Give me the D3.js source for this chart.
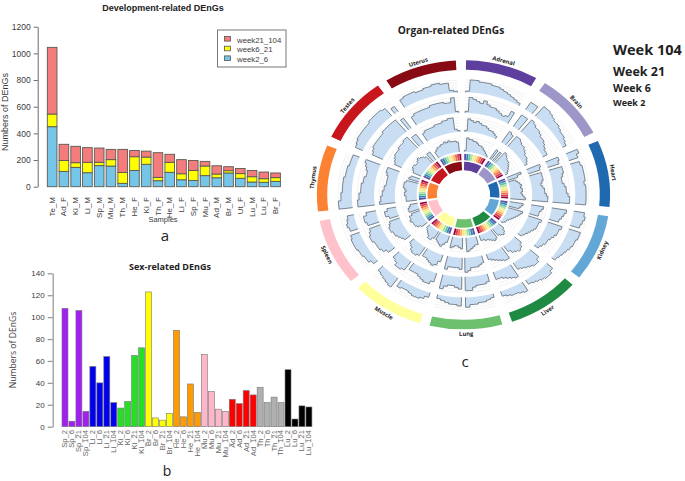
<!DOCTYPE html>
<html><head><meta charset="utf-8">
<script src="https://cdn.jsdelivr.net/npm/d3@7"></script>
<style>
html,body{margin:0;padding:0;background:#fff}
svg{display:block}
text{font-family:"Liberation Sans",Arial,sans-serif}
text.hum{font-family:"Open Sans",sans-serif}
</style></head><body><div id="c"></div>
<script>
// Panel a
const devSamples=["Te_M","Ad_F","Ki_M","Li_M","Sp_M","Mu_M","Th_M","He_F","Ki_F","Th_F","He_M","Li_F","Sp_F","Mu_F","Ad_M","Br_M","Ut_F","Lu_M","Lu_F","Br_F"];
const week2_6=[450,115,145,105,158,155,25,122,168,45,108,52,47,83,67,103,63,35,33,40];
const week6_21=[95,82,35,78,25,48,82,103,54,25,75,45,75,72,28,17,35,40,27,28];
const week21_104=[500,121,123,110,107,77,173,47,45,185,60,106,75,35,62,30,39,47,50,35];
const devSeries=["week2_6","week6_21","week21_104"];
const devColours=["#74c5e8","#ffff00","#f47c7c"];
const devTicks=[0,200,400,600,800,1000,1200];
// Panel b
const sexLabels=["Sp_2","Sp_6","Sp_21","Sp_104","Li_2","Li_6","Li_21","Li_104","Ki_2","Ki_6","Ki_21","Ki_104","Br_2","Br_6","Br_21","Br_104","He_2","He_6","He_21","He_104","Mu_2","Mu_6","Mu_21","Mu_104","Ad_2","Ad_6","Ad_21","Ad_104","Th_2","Th_6","Th_21","Th_104","Lu_2","Lu_6","Lu_21","Lu_104"];
const sexValues=[108,5,106,14,55,40,64,22,17,23,65,72,123,8,6,12,88,9,39,13,66,32,16,14,25,21,33,29,36,22,27,22,52,7,19,18];
const sexTissues=["Sp","Li","Ki","Br","He","Mu","Ad","Th","Lu"];
const sexColours=["#a020f0","#0000ee","#22e022","#ffff00","#ff9a00","#ffb6c8","#ff0000","#b0b0b0","#000000"];
const sexTicks=[0,20,40,60,80,100,120,140];
// Panel c
const organs=["Adrenal","Brain","Heart","Kidney","Liver","Lung","Muscle","Spleen","Thymus","Testes","Uterus"];
const organColours=["#5f3f9e","#9d97c9","#1f69b0","#62a7d6","#1f8a42","#6cc06e","#ffff9c","#ffc2ca","#fb8232","#c8161d","#880a14"];
const heatColours=["#5e4fa2","#3288bd","#66c2a5","#abdda4","#e6f598","#fee08b","#fdae61","#f46d43","#d53e4f","#9e0142"];
const week104=[
[1,10,10,9,9,9,8,8,7,6,5,4,3,2],
[7,7,0,10,10,9,8,7,7,6,5,5,4,3],
[9,7,0,7,8,8,8,8,7,8,8,8,8,8],
[8,9,8,7,0,9,9,8,8,7,6,5,4,3],
[6,8,8,7,6,5,4,0,8,7,6,6,5,4],
[3,4,5,5,6,6,8,0,7,6,6,5,4,3],
[4,6,7,7,6,5,5,6,0,9,8,7,6,5],
[4,6,6,7,7,8,8,8,7,0,6,7,6,5],
[10,10,8,8,7,7,7,7,6,6,6,5,5,5],
[6,7,8,8,8,8,8,9,9,9,9,8,0,5],
[7,8,8,8,7,7,8,8,9,9,8,8,2,1]];
const week21=[
[1,10,9,8,7,9,7,6,6,5,4,3,4,8],
[9,9,0,10,9,8,8,7,6,6,5,4,3,3],
[8,7,0,8,8,7,6,6,7,8,8,9,10,10],
[9,8,7,6,0,9,8,8,7,6,5,5,4,3],
[7,9,9,8,7,6,5,0,9,8,7,6,5,5],
[5,6,6,6,7,9,9,0,8,7,6,6,7,9],
[6,8,8,7,6,5,5,5,0,7,8,8,6,5],
[5,7,8,8,8,9,9,8,7,0,7,8,8,6],
[10,10,9,9,8,8,8,7,7,6,6,7,8,9],
[7,8,9,9,9,9,9,10,10,10,10,10,0,8],
[6,7,7,7,7,7,8,8,8,8,7,7,10,1]];
const week6=[
[1,9,8,7,8,7,6,6,5,4,4,3,2,0],
[9,8,0,9,9,8,7,7,6,5,4,4,3,2],
[9,8,0,8,8,8,7,6,7,8,8,9,10,10],
[8,7,6,6,0,9,8,8,8,7,6,5,4,3],
[6,8,9,8,7,5,0,9,9,8,7,6,5,4],
[5,6,7,7,7,9,10,0,8,7,7,7,7,9],
[5,8,9,8,7,6,6,0,7,8,8,7,5,4],
[5,6,7,8,8,9,9,8,7,0,6,8,8,6],
[10,9,9,8,8,7,7,6,6,6,6,7,8,8],
[5,6,7,8,8,8,9,9,9,10,10,0,8,8],
[6,7,7,7,7,8,8,8,9,9,10,10,2,1]];
const week2=[
[1,10,9,9,8,8,7,6,6,5,4,3,2,1],
[8,0,8,0,10,9,8,7,7,6,5,4,3,2],
[10,7,0,5,6,7,8,7,8,8,7,8,9,10],
[9,8,7,0,10,9,8,7,6,5,4,3,3,2],
[5,7,8,7,6,0,7,8,7,6,5,5,4,4],
[6,6,7,8,9,10,0,0,8,7,6,6,7,8],
[5,7,9,8,7,6,0,6,8,8,6,5,4,3],
[5,7,8,8,8,9,8,8,6,0,7,7,6,5],
[7,7,7,8,8,7,8,9,9,9,8,0,7,6],
[6,7,8,8,7,7,8,9,8,7,6,0,7,7],
[5,6,7,7,8,8,9,8,9,8,8,8,7,0]];
const weekTracks=[week104,week21,week6,week2];
const weekLabels=["Week 104","Week 21","Week 6","Week 2"];

const svg=d3.select("#c").append("svg").attr("width",685).attr("height",481);
const ink="#3c3c3c",axisCol="#6a6a6a";

function styleAxis(g,fs){
  g.selectAll("path,line").attr("stroke",axisCol);
  g.selectAll("text").attr("fill",ink).style("font-size",fs+"px");
}
/* ---------- a ---------- */
const ax=d3.scaleBand().domain(devSamples).range([45.2,282.5]).paddingInner(.18).paddingOuter(.18);
const ay=d3.scaleLinear().domain([0,1200]).range([186.7,26.7]);
const stack=d3.stack().keys(devSeries)(devSamples.map((s,i)=>({s,week2_6:week2_6[i],week6_21:week6_21[i],week21_104:week21_104[i]})));
const ga=svg.append("g");
ga.selectAll("g.l").data(stack).join("g").attr("fill",(d,i)=>devColours[i])
 .selectAll("rect").data(d=>d).join("rect")
 .attr("x",d=>ax(d.data.s)).attr("width",ax.bandwidth())
 .attr("y",d=>ay(d[1])).attr("height",d=>ay(d[0])-ay(d[1]))
 .attr("stroke","#5a5a50").attr("stroke-width",.9);
ga.append("g").attr("transform","translate(37.7,0)").call(d3.axisLeft(ay).tickValues(devTicks).tickFormat(d3.format("d")).tickSize(4).tickSizeOuter(0)).call(g=>styleAxis(g,8.5));
ga.append("g").attr("transform","translate(0,190)").call(d3.axisBottom(ax).tickSize(0))
 .call(g=>{g.select(".domain").remove();styleAxis(g,8);
  g.selectAll("text").attr("transform","rotate(-90)").attr("text-anchor","end").attr("x",-7).attr("y",0).attr("dy",".32em");});
ga.append("text").attr("x",163).attr("y",11).attr("text-anchor","middle").attr("font-weight","bold").attr("font-size",9).attr("fill","#222").text("Development-related DEnGs");
ga.append("text").attr("x",163).attr("y",222).attr("text-anchor","middle").attr("font-size",7.5).attr("fill",ink).text("Samples");
ga.append("text").attr("transform","translate(8,112) rotate(-90)").attr("text-anchor","middle").attr("font-size",9).attr("fill",ink).text("Numbers of DEnGs");
const leg=ga.append("g");
leg.append("rect").attr("x",217.5).attr("y",30).attr("width",68.5).attr("height",37).attr("fill","#fff").attr("stroke","#777").attr("stroke-width",1);
devSeries.slice().reverse().forEach((s,i)=>{
  const col=devColours[devSeries.length-1-i];
  leg.append("rect").attr("x",224.5).attr("y",36.5+i*9.7).attr("width",6).attr("height",4.6).attr("fill",col).attr("stroke","#555").attr("stroke-width",.8);
  leg.append("text").attr("x",237).attr("y",42.5+i*9.7).attr("font-size",7.8).attr("fill",ink).text(s);
});
svg.append("text").attr("x",165).attr("y",241).attr("text-anchor","middle").attr("font-size",15).attr("fill","#222").attr("class","hum").text("a");

/* ---------- b ---------- */
const bx=d3.scaleBand().domain(sexLabels).range([61,312.9]).paddingInner(.14).paddingOuter(.14);
const by=d3.scaleLinear().domain([0,140]).range([426.7,273.3]);
const tCol=d3.scaleOrdinal().domain(sexTissues).range(sexColours);
const gb=svg.append("g");
gb.selectAll("rect").data(sexValues).join("rect")
 .attr("x",(d,i)=>bx(sexLabels[i])).attr("width",bx.bandwidth())
 .attr("y",d=>by(d)).attr("height",d=>by(0)-by(d))
 .attr("fill",(d,i)=>tCol(sexLabels[i].split("_")[0])).attr("stroke","#777").attr("stroke-width",.6);
gb.append("g").attr("transform","translate(52.7,0)").call(d3.axisLeft(by).tickValues(sexTicks).tickSize(5).tickSizeOuter(0))
 .call(g=>{styleAxis(g,8);g.selectAll("path,line").attr("stroke","#9a9a9a").attr("stroke-width",1.3);});
gb.append("g").attr("transform","translate(0,428)").call(d3.axisBottom(bx).tickSize(0))
 .call(g=>{g.select(".domain").remove();styleAxis(g,7.6);
  g.selectAll("text").attr("fill","#666").attr("transform","rotate(-90)").attr("text-anchor","end").attr("x",-2).attr("y",0).attr("dy",".32em");});
gb.append("text").attr("class","hum").attr("x",170).attr("y",270).attr("text-anchor","middle").attr("font-weight","bold").attr("font-size",9).attr("fill","#222").text("Sex-related DEnGs");
gb.append("text").attr("class","hum").attr("transform","translate(16,350) rotate(-90)").attr("text-anchor","middle").attr("font-size",8.6).attr("fill",ink).text("Numbers of DEnGs");
svg.append("text").attr("x",167).attr("y",476).attr("text-anchor","middle").attr("font-size",14).attr("fill","#222").attr("class","hum").text("b");

/* ---------- c ---------- */
const cx=463.5,cy=194.8,stretch=1.09;
const gc=svg.append("g").attr("transform",`translate(${cx},${cy}) scale(${stretch},1)`);
const deg=Math.PI/180;
const sectorScale=d3.scaleLinear().domain([0,organs.length]).range([-1,359].map(d=>d*deg));
const gapA=2*deg;
const secStart=i=>sectorScale(i)+gapA, secEnd=i=>sectorScale(i+1)-gapA;
const arc=d3.arc();
const trackBase=[102.5,82,63,43], trackTop=[115,97.5,77.5,57];

organs.forEach((o,i)=>{
  const a0=secStart(i),a1=secEnd(i);
  gc.append("path").attr("d",arc({innerRadius:125,outerRadius:134.5,startAngle:a0,endAngle:a1})).attr("fill",organColours[i]);
  gc.append("path").attr("d",arc({innerRadius:24.5,outerRadius:33,startAngle:a0,endAngle:a1})).attr("fill",organColours[i]);
  const hs=d3.scaleBand().domain(d3.range(heatColours.length)).range([a0,a1]).paddingInner(.12);
  heatColours.forEach((c,k)=>gc.append("path").attr("d",arc({innerRadius:34.5,outerRadius:41,startAngle:hs(k),endAngle:hs(k)+hs.bandwidth()})).attr("fill",c));
  weekTracks.forEach((trk,t)=>{
    const vals=trk[i];
    const r=d3.scaleLinear().domain([0,10]).range([trackBase[t],trackTop[t]]);
    const ang=d3.scaleLinear().domain([0,vals.length]).range([a0,a1]);
    d3.range(1,6).forEach(q=>{
      const rr=trackBase[t]+q*(trackTop[t]-trackBase[t])/5;
      gc.append("path").attr("d",arc({innerRadius:rr,outerRadius:rr,startAngle:a0,endAngle:a1})).attr("fill","none").attr("stroke","#f1f1f1").attr("stroke-width",.6).attr("vector-effect","non-scaling-stroke");
    });
    let k=0;
    while(k<vals.length){
      if(vals[k]===0){k++;continue;}
      let e=k;while(e+1<vals.length&&vals[e+1]!==0)e++;
      const pts=[{a:ang(k),v:0}];
      for(let b=k;b<=e;b++){pts.push({a:ang(b),v:vals[b]});pts.push({a:ang(b+1),v:vals[b]});}
      pts.push({a:ang(e+1),v:0});
      gc.append("path").datum(pts).attr("d",d3.areaRadial().angle(p=>p.a).innerRadius(r(0)).outerRadius(p=>r(p.v))).attr("fill","#c9def2");
      gc.append("path").datum(pts).attr("d",d3.lineRadial().angle(p=>p.a).radius(p=>r(p.v))).attr("fill","none").attr("stroke","#66727e").attr("stroke-width",.85).attr("vector-effect","non-scaling-stroke");
      k=e+1;
    }
  });
  const mid=(a0+a1)/2,midDeg=mid/deg,R=139;
  const rot=(midDeg>90&&midDeg<270)?midDeg-180:midDeg;
  svg.append("text").attr("class","hum")
    .attr("transform",`translate(${cx+stretch*R*Math.sin(mid)},${cy-R*Math.cos(mid)}) rotate(${rot})`)
    .attr("text-anchor","middle").attr("dy",".35em").attr("font-size",5.8).attr("font-weight","bold").attr("fill","#222").text(o);
});
svg.append("text").attr("class","hum").attr("x",451).attr("y",34).attr("text-anchor","middle").attr("font-weight","bold").attr("font-size",10.2).attr("fill","#222").text("Organ-related DEnGs");
const weekSizes=[14.5,12.5,10.5,9],weekY=[55,76,92,106];
weekLabels.forEach((w,i)=>svg.append("text").attr("class","hum").attr("x",613).attr("y",weekY[i]).attr("font-weight","bold").attr("font-size",weekSizes[i]).attr("fill","#222").text(w));
svg.append("text").attr("x",465).attr("y",367).attr("text-anchor","middle").attr("font-size",15).attr("fill","#222").attr("class","hum").text("c");
</script></body></html>
